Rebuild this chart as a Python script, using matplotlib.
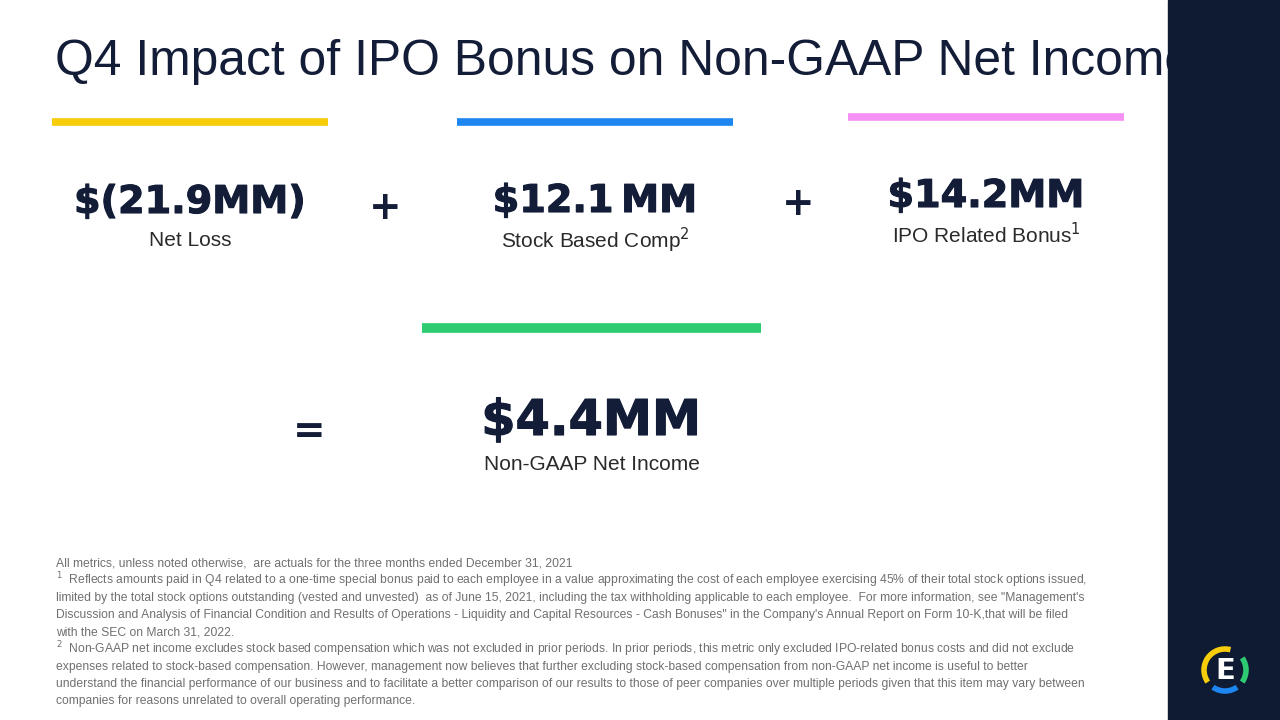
import matplotlib
matplotlib.use("Agg")
import matplotlib.pyplot as plt
import matplotlib.patheffects as pe
from matplotlib.patches import Rectangle, Arc

plt.rcParams["font.family"] = ["Liberation Sans", "DejaVu Sans"]

TITLE = "Q4 Impact of IPO Bonus on Non-GAAP Net Income"

# figures shown on the slide
values = ["$(21.9MM)", "$12.1\u2009MM", "$14.2MM"]
labels = ["Net Loss", "Stock Based Comp$^2$", "IPO Related Bonus$^1$"]
bar_colors = ["#f7cd0a", "#1e86f0", "#f590f5"]
result_value = "$4.4MM"
result_label = "Non-GAAP Net Income"
result_color = "#2fcb72"

footnotes = [
    "All metrics, unless noted otherwise,  are actuals for the three months ended December 31, 2021",
    "$^1$  Reflects amounts paid in Q4 related to a one-time special bonus paid to each employee in a value approximating the cost of each employee exercising 45% of their total stock options issued,",
    "limited by the total stock options outstanding (vested and unvested)  as of June 15, 2021, including the tax withholding applicable to each employee.  For more information, see \"Management's",
    "Discussion and Analysis of Financial Condition and Results of Operations - Liquidity and Capital Resources - Cash Bonuses\" in the Company's Annual Report on Form 10-K,that will be filed",
    "with the SEC on March 31, 2022.",
    "$^2$  Non-GAAP net income excludes stock based compensation which was not excluded in prior periods. In prior periods, this metric only excluded IPO-related bonus costs and did not exclude",
    "expenses related to stock-based compensation. However, management now believes that further excluding stock-based compensation from non-GAAP net income is useful to better",
    "understand the financial performance of our business and to facilitate a better comparison of our results to those of peer companies over multiple periods given that this item may vary between",
    "companies for reasons unrelated to overall operating performance.",
]

NAVY = "#131d38"
heavy = [pe.withStroke(linewidth=0.8, foreground=NAVY)]

fig = plt.figure(figsize=(12.8, 7.2), dpi=100)
ax = fig.add_axes([0, 0, 1, 1])
ax.set_xlim(0, 1280)
ax.set_ylim(720, 0)
ax.axis("off")

ax.text(55, 62, TITLE, fontsize=35.8, color=NAVY, va="center", ha="left", zorder=1)

# right dark panel (covers end of title like on the slide)
ax.add_patch(Rectangle((1168, 0), 112, 720, color="#0e1b33", zorder=5))

# top three blocks
centers = [190, 595, 986]
bar_y = [122, 122, 117]
num_y = [203, 202, 197]
for cx, by, ny, val, lab, col in zip(centers, bar_y, num_y, values, labels, bar_colors):
    ax.plot([cx - 138, cx + 138], [by, by], color=col, lw=5.5, solid_capstyle="butt")
    ax.text(cx, ny, val, fontsize=27.5, fontweight="bold", family="DejaVu Sans",
            color=NAVY, ha="center", va="center", path_effects=heavy)
    ax.text(cx, ny + 38, lab, fontsize=15, color="#2a2a2a", ha="center", va="center")

for px, py in [(385, 208), (798, 204)]:
    ax.text(px, py, "+", fontsize=28, fontweight="bold", family="DejaVu Sans",
            color=NAVY, ha="center", va="center")

# result block
ax.plot([422, 761], [328, 328], color=result_color, lw=7, solid_capstyle="butt")
ax.text(309, 432, "=", fontsize=28, fontweight="bold", family="DejaVu Sans",
        color=NAVY, ha="center", va="center")
ax.text(591, 421, result_value, fontsize=35.5, fontweight="bold", family="DejaVu Sans",
        color=NAVY, ha="center", va="center", path_effects=heavy)
ax.text(592, 464, result_label, fontsize=15, color="#2a2a2a", ha="center", va="center")

# footnotes
for i, line in enumerate(footnotes):
    ax.text(56, 563 + i * 17.3, line, fontsize=8.7, color="#707070", ha="left", va="center")

# logo
lx, ly, r = 1225, 670, 21
for t1, t2, col in [(145, 285, bar_colors[0]), (-35, 35, result_color), (55, 125, bar_colors[1])]:
    ax.add_patch(Arc((lx, ly), 2 * r, 2 * r, theta1=t1, theta2=t2, color=col, lw=4, zorder=6))
ax.text(lx, ly + 1, "E", fontsize=21, fontweight="bold", family="DejaVu Sans",
        color="white", ha="center", va="center", zorder=7)

fig.savefig("out.png", dpi=100, facecolor="white")
